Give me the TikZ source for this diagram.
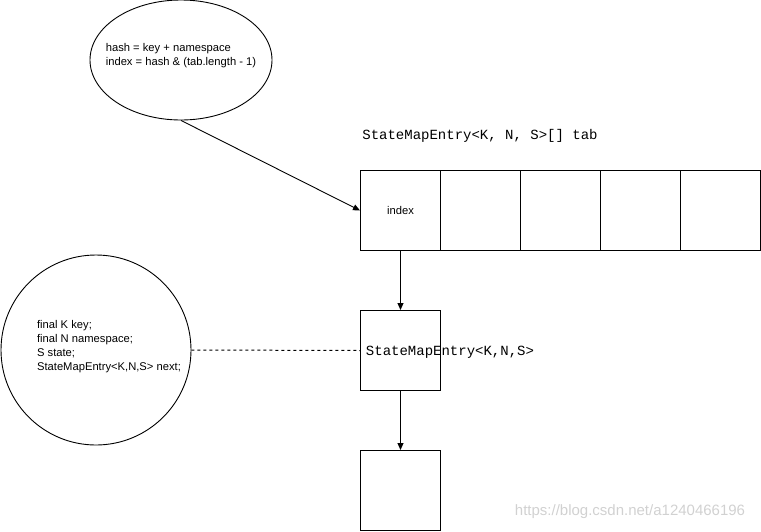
\documentclass[tikz,border=0pt]{standalone}
\usepackage{fontspec}
\setmainfont{Liberation Sans}
\setmonofont{Liberation Mono}
\usetikzlibrary{shapes.geometric,arrows.meta}
\begin{document}
\begin{tikzpicture}[x=1pt,y=-1pt,
  cell/.style={draw,line width=1pt,minimum width=80pt,minimum height=80pt,inner sep=0pt,anchor=north west},
  conn/.style={line width=0.9pt,-{Triangle[length=7pt,width=6pt]}},
  lbl/.style={font=\fontsize{11.2}{14}\selectfont,align=left,inner sep=0pt},
  code/.style={font=\fontsize{14}{16}\ttfamily,inner sep=0pt}]
\useasboundingbox (0,0) rectangle (761,531);
% top ellipse
\node[draw,ellipse,line width=0.9pt,minimum width=182pt,minimum height=120pt,inner sep=0pt] (ell) at (181,60) {};
\node[lbl] (elltxt) at (181,56) {hash = key + namespace\\index = hash \& (tab.length - 1)};
% title
\node[code] (title) at (480,136) {StateMapEntry<K, N, S>[] tab};
% array cells
\node[cell] (c1) at (360,170) {\fontsize{11.2}{14}\selectfont index};
\node[cell] (c2) at (440,170) {};
\node[cell] (c3) at (520,170) {};
\node[cell] (c4) at (600,170) {};
\node[cell] (c5) at (680,170) {};
% entries
\node[cell] (e1) at (360,310) {};
\node[cell] (e2) at (360,450) {};
\node[code] (e1txt) at (450,352) {StateMapEntry<K,N,S>};
% circle
\node[draw,circle,line width=0.9pt,minimum size=190pt,inner sep=0pt] (circ) at (96,350) {};
\node[lbl] (circtxt) at (109,347) {final K key;\\final N namespace;\\S state;\\StateMapEntry<K,N,S> next;};
% connectors
\draw[conn] (ell.south) -- (c1.west);
\draw[conn] (c1.south) -- (e1.north);
\draw[conn] (e1.south) -- (e2.north);
\draw[line width=1pt,dash pattern=on 3pt off 3pt] (circ.east) -- (e1.west);
% watermark
\node[font=\fontsize{15}{18}\selectfont,text=black!18,inner sep=0pt] (wm) at (630,512) {https://blog.csdn.net/a1240466196};
\end{tikzpicture}
\end{document}
